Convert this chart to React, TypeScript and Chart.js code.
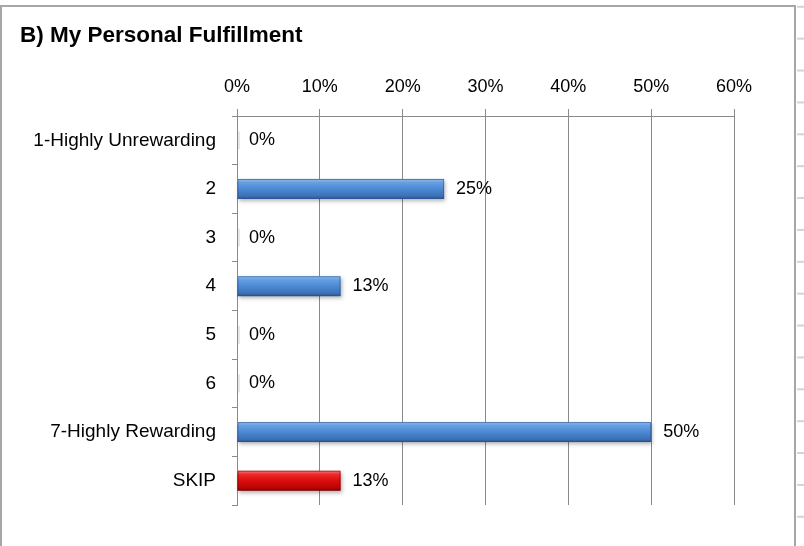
import React, { useEffect, useRef } from "react";
import { Chart, registerables } from "chart.js";

Chart.register(...registerables);

const TITLE = "B) My Personal Fulfillment";
const categories = [
  "1-Highly Unrewarding",
  "2",
  "3",
  "4",
  "5",
  "6",
  "7-Highly Rewarding",
  "SKIP",
];
const values = [0, 25, 0, 12.5, 0, 0, 50, 12.5];
const valueLabels = ["0%", "25%", "0%", "13%", "0%", "0%", "50%", "13%"];
const isSkip = [false, false, false, false, false, false, false, true];
const xMax = 60;
const xStep = 10;

const FONT = "'Liberation Sans', Arial, sans-serif";
const GRID = "#8a8a8a";

const barGradientPlugin = {
  id: "barGradient",
  afterDatasetsDraw(chart: any) {
    const ctx = chart.ctx;
    const meta = chart.getDatasetMeta(0);
    meta.data.forEach((el: any, i: number) => {
      const p = el.getProps(["x", "y", "base", "height"], true);
      const left = Math.min(p.x, p.base);
      const w = Math.abs(p.x - p.base);
      const top = p.y - p.height / 2;
      const h = p.height;
      if (w >= 1) {
        const g = ctx.createLinearGradient(0, top, 0, top + h);
        if (isSkip[i]) {
          g.addColorStop(0, "#f47a7a");
          g.addColorStop(0.18, "#ee2a2a");
          g.addColorStop(0.5, "#dc0c0c");
          g.addColorStop(0.85, "#b80404");
          g.addColorStop(1, "#8c0000");
        } else {
          g.addColorStop(0, "#8fbdf0");
          g.addColorStop(0.18, "#659fe2");
          g.addColorStop(0.5, "#4c89d4");
          g.addColorStop(0.85, "#3c71b6");
          g.addColorStop(1, "#2d5590");
        }
        ctx.save();
        ctx.shadowColor = "rgba(0,0,0,0.3)";
        ctx.shadowBlur = 4;
        ctx.shadowOffsetX = 1;
        ctx.shadowOffsetY = 2;
        ctx.fillStyle = g;
        ctx.fillRect(left, top, w, h);
        ctx.restore();
        ctx.save();
        ctx.strokeStyle = isSkip[i] ? "rgba(120,0,0,0.6)" : "rgba(40,80,140,0.6)";
        ctx.lineWidth = 1;
        ctx.strokeRect(left + 0.5, top + 0.5, w - 1, h - 1);
        ctx.restore();
      } else {
        ctx.save();
        ctx.fillStyle = "#e8e8e8";
        ctx.fillRect(left + 1, top + 1, 2, h - 2);
        ctx.restore();
      }
      ctx.save();
      ctx.font = `18px ${FONT}`;
      ctx.fillStyle = "#000";
      ctx.textAlign = "left";
      ctx.textBaseline = "middle";
      ctx.fillText(valueLabels[i], Math.max(p.x, p.base) + 12, p.y);
      ctx.restore();
    });
  },
};

export default function App() {
  const ref = useRef<HTMLCanvasElement | null>(null);
  useEffect(() => {
    if (!ref.current) return;
    const chart = new Chart(ref.current, {
      type: "bar",
      data: {
        labels: categories,
        datasets: [
          {
            data: values,
            backgroundColor: "rgba(0,0,0,0)",
            borderWidth: 0,
            barPercentage: 0.41,
            categoryPercentage: 1,
          },
        ],
      },
      plugins: [barGradientPlugin],
      options: {
        indexAxis: "y",
        responsive: false,
        animation: false,
        events: [],
        layout: { padding: { left: 20, right: 70, top: 0, bottom: 41 } },
        plugins: {
          legend: { display: false },
          tooltip: { enabled: false },
          title: {
            display: true,
            text: TITLE,
            align: "start",
            color: "#000",
            font: { family: FONT, size: 22.5, weight: "bold" },
            padding: { top: 22, bottom: 12 },
          },
        },
        scales: {
          x: {
            position: "top",
            min: 0,
            max: xMax,
            afterFit: (s: any) => {
              s.height = 55;
            },
            ticks: {
              stepSize: xStep,
              callback: (v: any) => `${v}%`,
              color: "#000",
              font: { family: FONT, size: 18 },
              padding: 11,
            },
            grid: {
              color: GRID,
              lineWidth: 1,
              tickLength: 7,
              drawOnChartArea: true,
            },
            border: { display: true, color: GRID, width: 1 },
          },
          y: {
            afterFit: (s: any) => {
              s.width = 217;
            },
            ticks: {
              color: "#000",
              font: { family: FONT, size: 19 },
              padding: 16,
            },
            grid: {
              offset: true,
              drawOnChartArea: false,
              color: GRID,
              tickLength: 5,
            },
            border: { display: true, color: GRID, width: 1 },
          },
        },
      },
    } as any);
    return () => chart.destroy();
  }, []);

  return (
    <div
      style={{
        position: "fixed",
        left: 0,
        top: 0,
        width: 804,
        height: 546,
        background: "#fff",
        overflow: "hidden",
      }}
    >
      <div
        style={{
          position: "absolute",
          left: 0,
          top: 5,
          width: 792,
          height: 600,
          border: "2px solid #a6a6a6",
          borderBottom: "none",
        }}
      />
      <div
        style={{
          position: "absolute",
          left: 797,
          top: 0,
          width: 7,
          height: 546,
          backgroundImage: "linear-gradient(to bottom, #d4d4d4 0, #d4d4d4 2px, transparent 2px)",
          backgroundSize: "100% 31.89px",
          backgroundPosition: "0 5.8px",
        }}
      />
      <canvas
        ref={ref}
        width={804}
        height={546}
        style={{ position: "absolute", left: 0, top: 0, width: 804, height: 546 }}
      />
    </div>
  );
}
